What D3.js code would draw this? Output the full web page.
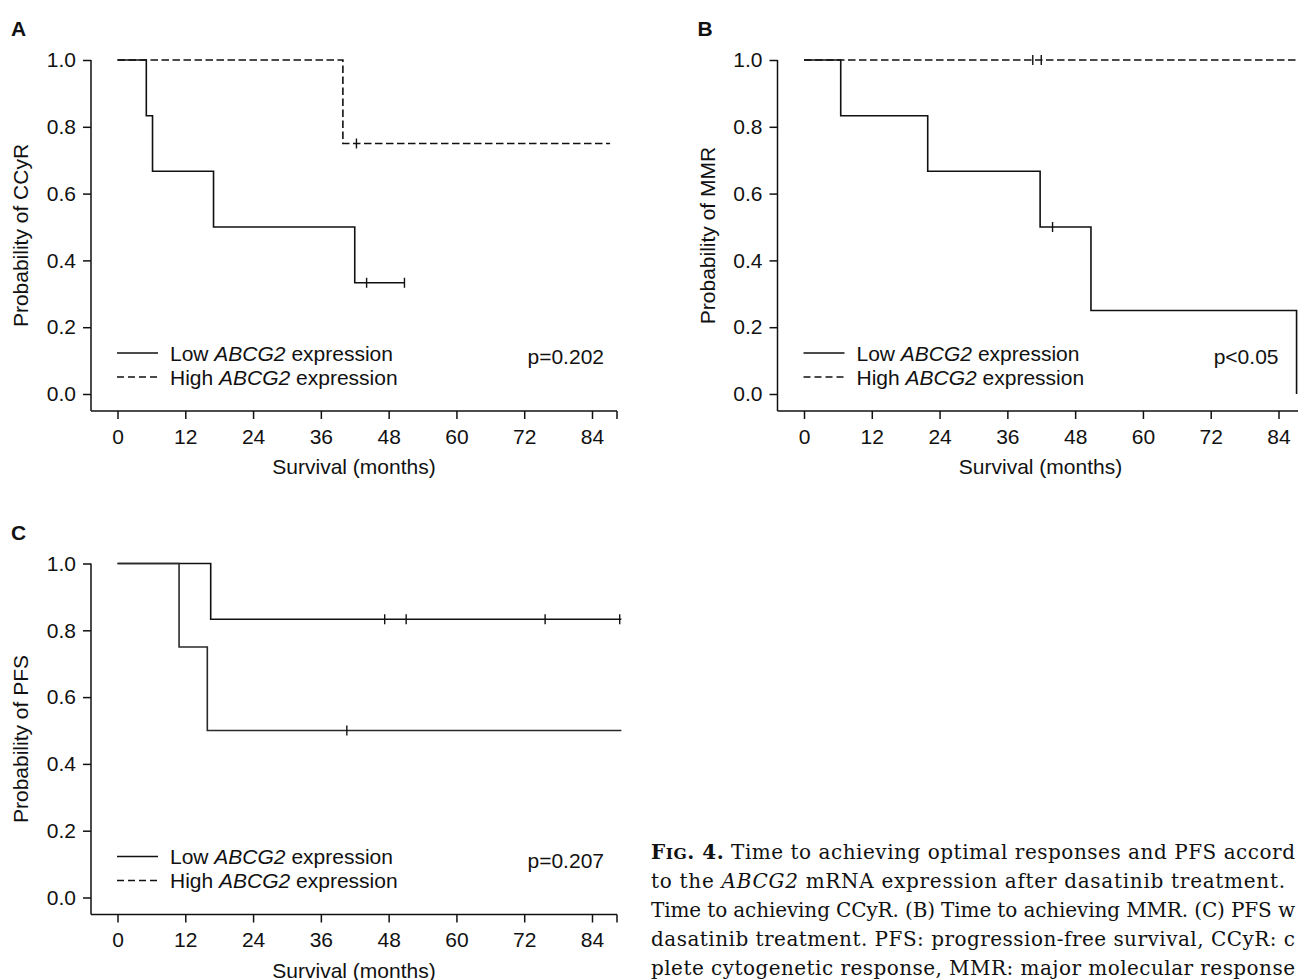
<!DOCTYPE html>
<html><head><meta charset="utf-8">
<script src="https://cdn.jsdelivr.net/npm/d3@7/dist/d3.min.js"></script>
<style>
body{margin:0;background:#fff}
svg{display:block}
</style>
</head><body>
<svg id="chart" width="1298" height="980"></svg>
<script>
// ---- data ----
const xTicks = [0, 12, 24, 36, 48, 60, 72, 84];
const yTicks = [0, 0.2, 0.4, 0.6, 0.8, 1.0];

// Panel A: time to CCyR
const aLowTimes = [0, 5.1, 6.2, 17.0, 42.0, 50.8];
const aLowSurv  = [1, 0.833, 0.667, 0.5, 0.333, 0.333];
const aLowCens  = [44.1, 50.8];
const aHighTimes = [0, 39.9, 87.2];
const aHighSurv  = [1, 0.75, 0.75];
const aHighCens  = [42.3];

// Panel B: time to MMR
const bLowTimes = [0, 6.5, 21.9, 41.8, 50.8, 87.2];
const bLowSurv  = [1, 0.833, 0.667, 0.5, 0.25, 0];
const bLowCens  = [44.0];
const bHighTimes = [0, 95];
const bHighSurv  = [1, 1];
const bHighCens  = [40.5, 42.0];

// Panel C: PFS
const cUpperTimes = [0, 16.5, 89.2];
const cUpperSurv  = [1, 0.833, 0.833];
const cUpperCens  = [47.3, 51.1, 75.7, 88.9];
const cLowerTimes = [0, 10.9, 15.9, 89.2];
const cLowerSurv  = [1, 0.75, 0.5, 0.5];
const cLowerCens  = [40.6];

const yTitles = ["Probability of CCyR", "Probability of MMR", "Probability of PFS"];
const pValues = ["p=0.202", "p<0.05", "p=0.207"];
const panelLetters = ["A", "B", "C"];
const legendGroups = ["Low", "High"];
const xTitle = "Survival (months)";

const captionLines = [
  [{t:"F",b:1},{t:"IG",b:1,sc:1},{t:". 4.",b:1},{t:" Time to achieving optimal responses and PFS accord"}],
  [{t:"to the "},{t:"ABCG2",i:1},{t:" mRNA expression after dasatinib treatment."}],
  [{t:"Time to achieving CCyR. (B) Time to achieving MMR. (C) PFS w"}],
  [{t:"dasatinib treatment. PFS: progression-free survival, CCyR: c"}],
  [{t:"plete cytogenetic response, MMR: major molecular response"}]
];
const captionWidths = [644, 634, 644, 644, 644];

// ---- drawing ----
const svg = d3.select("#chart");
svg.append("rect").attr("width",1298).attr("height",980).attr("fill","#fff");
const FONT = "'Liberation Sans', Arial, Helvetica, sans-serif";
const INK = "#111";

const x = d3.scaleLinear().domain([0, 84]).range([117.5, 592]);
const y = d3.scaleLinear().domain([0, 1]).range([394, 60]);
const axisY = 411, axisX = 91, xAxisEnd = 617;

const panels = [
  {ox:0, oy:0, open:false, curves:[
     {t:aLowTimes,s:aLowSurv,c:aLowCens,dash:false},
     {t:aHighTimes,s:aHighSurv,c:aHighCens,dash:true}]},
  {ox:686.5, oy:0, open:true, curves:[
     {t:bHighTimes,s:bHighSurv,c:bHighCens,dash:true},
     {t:bLowTimes,s:bLowSurv,c:bLowCens,dash:false}]},
  {ox:0, oy:503.5, open:false, curves:[
     {t:cUpperTimes,s:cUpperSurv,c:cUpperCens,dash:false},
     {t:cLowerTimes,s:cLowerSurv,c:cLowerCens,dash:false,grey:true}]}
];

const line = d3.line().x(d=>x(d[0])).y(d=>y(d[1])).curve(d3.curveStepAfter);

panels.forEach((p, i) => {
  const g = svg.append("g").attr("transform", `translate(${p.ox},${p.oy})`);

  g.append("text").attr("x", 11).attr("y", 36)
    .attr("font-family", FONT).attr("font-weight", "bold").attr("font-size", 21)
    .attr("fill", INK).text(panelLetters[i]);

  g.append("line").attr("x1", axisX).attr("x2", axisX).attr("y1", y(1)).attr("y2", axisY)
    .attr("stroke", INK).attr("stroke-width", 1.5);
  g.append("line").attr("x1", axisX).attr("x2", p.open ? xAxisEnd + 200 : xAxisEnd)
    .attr("y1", axisY).attr("y2", axisY)
    .attr("stroke", INK).attr("stroke-width", 1.5);
  g.append("line").attr("x1", xAxisEnd).attr("x2", xAxisEnd).attr("y1", axisY).attr("y2", axisY + 8)
    .attr("stroke", INK).attr("stroke-width", 1.5);

  const ya = g.append("g").attr("transform", `translate(${axisX},0)`)
    .call(d3.axisLeft(y).tickValues(yTicks).tickSize(8).tickPadding(7).tickFormat(d3.format(".1f")));
  const xa = g.append("g").attr("transform", `translate(0,${axisY})`)
    .call(d3.axisBottom(x).tickValues(xTicks).tickSize(8).tickPadding(10));
  [ya, xa].forEach(a => {
    a.select(".domain").remove();
    a.attr("font-family", FONT).attr("font-size", 21);
    a.selectAll("line").attr("stroke", INK).attr("stroke-width", 1.5);
    a.selectAll("text").attr("fill", INK);
  });

  g.append("text").attr("x", (axisX + xAxisEnd) / 2).attr("y", 474)
    .attr("text-anchor", "middle").attr("font-family", FONT).attr("font-size", 21)
    .attr("fill", INK).text(xTitle);
  g.append("text").attr("transform", `translate(28,${(y(1) + axisY) / 2}) rotate(-90)`)
    .attr("text-anchor", "middle").attr("font-family", FONT).attr("font-size", 21)
    .attr("fill", INK).text(yTitles[i]);

  p.curves.forEach(cv => {
    const pts = cv.t.map((t, k) => [t, cv.s[k]]);
    g.append("path").attr("d", line(pts)).attr("fill", "none")
      .attr("stroke", cv.grey ? "#2a2a2a" : INK).attr("stroke-width", 1.6)
      .attr("stroke-dasharray", cv.dash ? "7.5,3.5" : null);
    const survAt = t => { let v = cv.s[0]; cv.t.forEach((tt, k) => { if (tt <= t) v = cv.s[k]; }); return v; };
    cv.c.forEach(ct => {
      g.append("line").attr("x1", x(ct)).attr("x2", x(ct))
        .attr("y1", y(survAt(ct)) - 5).attr("y2", y(survAt(ct)) + 5)
        .attr("stroke", INK).attr("stroke-width", 1.4);
    });
  });

  legendGroups.forEach((lab, k) => {
    const ly = 353 + k * 24;
    g.append("line").attr("x1", 117).attr("x2", 158).attr("y1", ly).attr("y2", ly)
      .attr("stroke", INK).attr("stroke-width", 1.5)
      .attr("stroke-dasharray", k === 1 ? "7,4" : null);
    const t = g.append("text").attr("x", 170).attr("y", ly + 7.5)
      .attr("font-family", FONT).attr("font-size", 21).attr("fill", INK);
    t.append("tspan").text(lab + " ");
    t.append("tspan").attr("font-style", "italic").text("ABCG2");
    t.append("tspan").text(" expression");
  });

  g.append("text").attr("x", i === 1 ? 592 : 604).attr("y", 364)
    .attr("text-anchor", "end").attr("font-family", FONT).attr("font-size", 21)
    .attr("fill", INK).text(pValues[i]);
});

// caption
const capFont = "'DejaVu Serif', 'Liberation Serif', serif";
captionLines.forEach((ln, k) => {
  const t = svg.append("text").attr("x", 651).attr("y", 859 + k * 29)
    .attr("font-family", capFont).attr("font-size", 20).attr("fill", INK)
    .attr("textLength", captionWidths[k]).attr("lengthAdjust", "spacing");
  ln.forEach(seg => {
    const s = t.append("tspan").text(seg.t);
    if (seg.b) s.attr("font-weight", "bold");
    if (seg.i) s.attr("font-style", "italic");
    if (seg.sc) s.attr("font-size", 15.5);
  });
});
</script>
</body></html>
